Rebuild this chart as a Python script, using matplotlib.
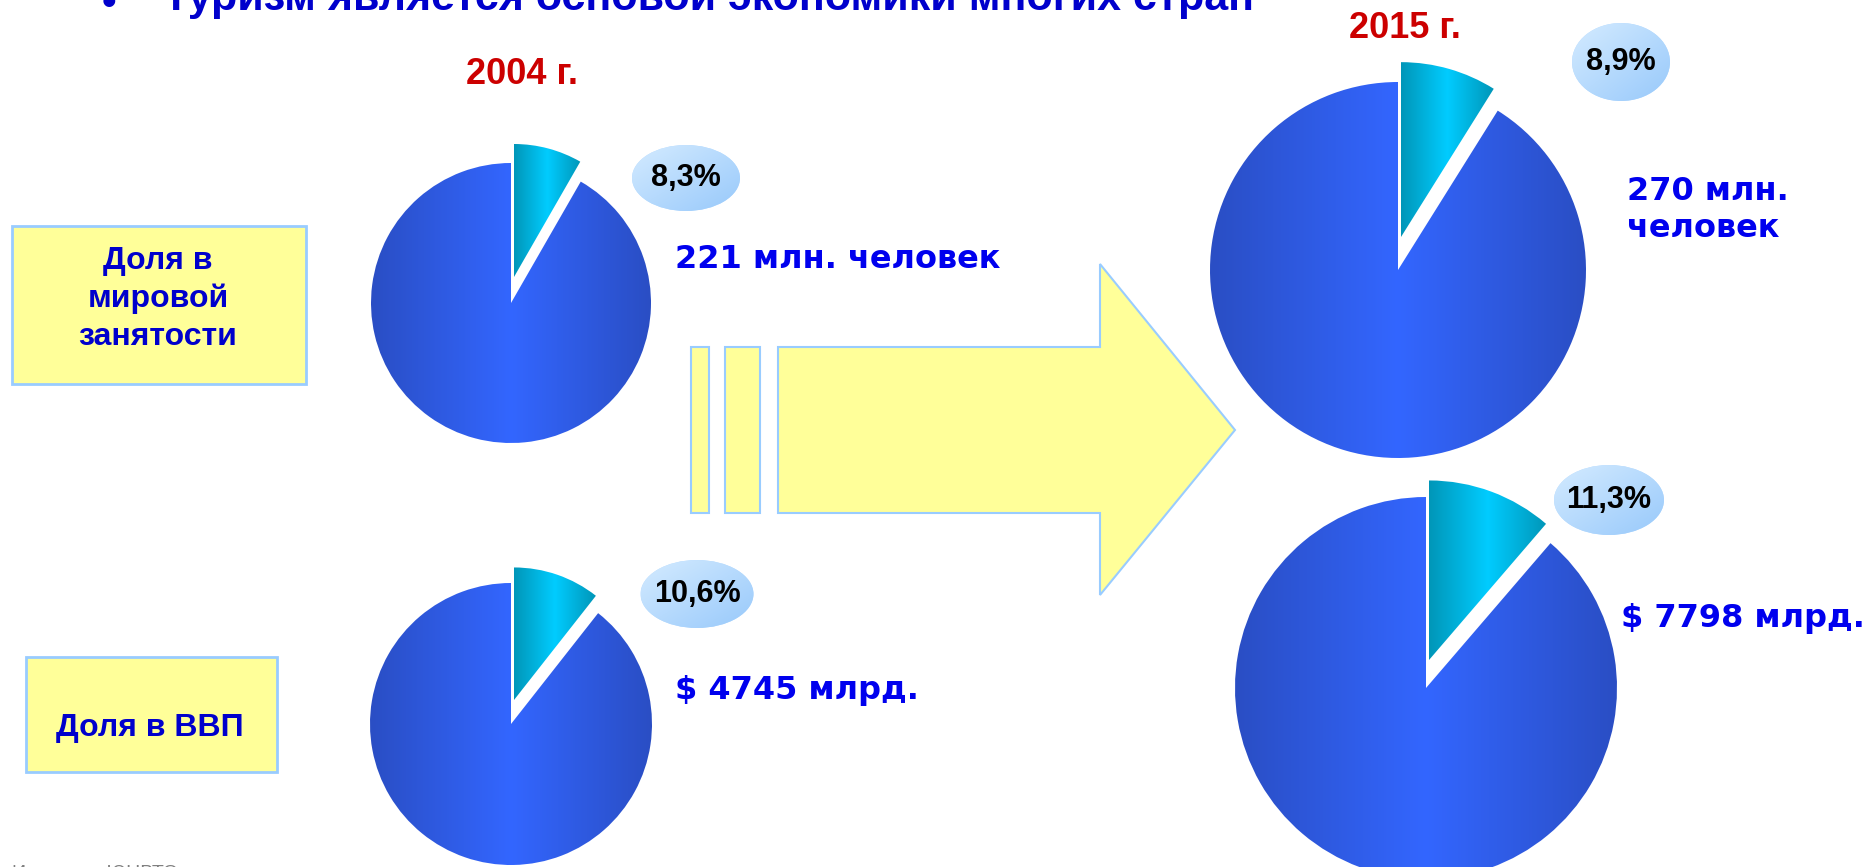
import numpy as np
import matplotlib
matplotlib.use('Agg')
import matplotlib.pyplot as plt
from matplotlib.colors import LinearSegmentedColormap
from matplotlib.patches import Ellipse, Rectangle, Polygon
from matplotlib import font_manager

W, H = 1862, 867

# data
title = 'Туризм является основой экономики многих стран'
source = 'Источник: ЮНВТО'
years = ['2004 г.', '2015 г.']
indicators = ['Доля в\nмировой\nзанятости', 'Доля в ВВП']
employment_share = [8.3, 8.9]     # % of world employment
gdp_share = [10.6, 11.3]          # % of world GDP
employment_abs = ['221 млн. человек', '270 млн.\nчеловек']
gdp_abs = ['$ 4745 млрд.', '$ 7798 млрд.']

installed = {f.name for f in font_manager.fontManager.ttflist}
NARROW = 'Liberation Sans Narrow' if 'Liberation Sans Narrow' in installed else 'Liberation Sans'
ARIAL = 'Liberation Sans'
WIDE = 'DejaVu Sans'

# layout in image pixels (x right, y down)
# (cx, cy, radius, wedge shift x, wedge shift y, wedge radius factor)
pie_pos = [[(511, 303, 140, 3, 26, 0.95), (1398, 270, 188, 3, 33, 0.93)],
           [(511, 724, 141, 3, 24, 0.94), (1426, 688, 191, 3, 28, 0.94)]]
bubble_pos = [[(686, 178, 108, 66), (1621, 62, 98, 78)],
              [(697, 594, 113, 68), (1609, 500, 110, 70)]]
value_pos = [[(675, 259), (1627, 210)],
             [(675, 690), (1621, 619)]]
year_pos = [(522, 75), (1405, 29)]
box_pos = [(12, 226, 294, 158), (26, 657, 251, 115)]
box_text_pos = [(158, 299), (150, 728)]


def Y(y):
    return H - y


def gradient_fill(ax, patch, colors, diagonal=False):
    bb = patch.get_patch_transform().transform_path(patch.get_path()).get_extents()
    n = 256
    if diagonal:
        X, Yg = np.meshgrid(np.linspace(0, 1, n), np.linspace(0, 1, n))
        g = (X + (1 - Yg)) / 2
    else:
        g = np.linspace(0, 1, n)[None, :]
    cmap = LinearSegmentedColormap.from_list('g', colors)
    im = ax.imshow(g, cmap=cmap, extent=(bb.x0, bb.x1, bb.y0, bb.y1), origin='lower',
                   aspect='auto', interpolation='bicubic', zorder=patch.get_zorder() + 0.1)
    im.set_clip_path(patch)
    return im


fig = plt.figure(figsize=(W / 100, H / 100), dpi=100)
ax = fig.add_axes([0, 0, 1, 1])

shares = [employment_share, gdp_share]
values = [employment_abs, gdp_abs]

for row in range(2):
    for col in range(2):
        cx, cy, r, sx, sy, ws = pie_pos[row][col]
        share = shares[row][col]
        wedges, _ = ax.pie([share, 100 - share], startangle=90, counterclock=False,
                           center=(cx, Y(cy)), radius=r,
                           colors=['#00b4e0', '#3060f0'],
                           wedgeprops=dict(edgecolor='white', linewidth=1.5))
        small, big = wedges
        # pull the small slice straight up, like in the original slide
        small.set_center((cx + sx, Y(cy) + sy))
        small.set_radius(r * ws)
        for w in wedges:
            w.set_zorder(2)
        gradient_fill(ax, big, ['#2a4ec4', '#3366ff', '#2a4ec4'])
        gradient_fill(ax, small, ['#0096b8', '#00ccff', '#0096b8'])

        bx, by, bw, bh = bubble_pos[row][col]
        ell = Ellipse((bx, Y(by)), bw, bh, facecolor='#b8dcff', edgecolor='none', zorder=3)
        ax.add_patch(ell)
        gradient_fill(ax, ell, ['#d4ebff', '#98c9fb'], diagonal=True)
        ax.text(bx, Y(by), f'{share:.1f}%'.replace('.', ','), ha='center', va='center',
                fontsize=22, fontweight='bold', family=ARIAL, color='black', zorder=5)

        vx, vy = value_pos[row][col]
        ax.text(vx, Y(vy), values[row][col], ha='left', va='center', fontsize=23,
                fontweight='bold', family=WIDE, color='#0000ee', linespacing=1.25, zorder=5)

for (x, y), yr in zip(year_pos, years):
    ax.text(x, Y(y), yr, ha='center', va='center', fontsize=26, fontweight='bold',
            family=ARIAL, color='#cc0000', zorder=5)

for (x, y, w, h), (tx, ty), lab in zip(box_pos, box_text_pos, indicators):
    ax.add_patch(Rectangle((x, Y(y + h)), w, h, facecolor='#ffff99', edgecolor='#99ccff',
                           linewidth=2, zorder=1))
    ax.text(tx, Y(ty), lab, ha='center', va='center', fontsize=23, fontweight='bold',
            family=ARIAL, color='#0000cc', linespacing=1.32, zorder=5)

# arrow with two stripes
for x0, x1 in [(691, 709), (725, 760)]:
    ax.add_patch(Rectangle((x0, Y(513)), x1 - x0, 166, facecolor='#ffff99',
                           edgecolor='#99ccff', linewidth=1.5, zorder=1))
arrow = [(778, 347), (1100, 347), (1100, 264), (1235, 430), (1100, 595), (1100, 513), (778, 513)]
ax.add_patch(Polygon([(x, Y(y)) for x, y in arrow], closed=True, facecolor='#ffff99',
                     edgecolor='#99ccff', linewidth=1.5, zorder=1))

# title (cut by the top edge) and source (cut by the bottom edge)
ax.text(109, Y(4), '•', ha='center', va='center', fontsize=30, fontweight='bold',
        family=ARIAL, color='#0000cc')
ax.text(163, Y(10), title, ha='left', va='baseline', fontsize=38 if NARROW != ARIAL else 31,
        fontweight='bold', family=NARROW, color='#0000cc')
ax.text(12, Y(865), source, ha='left', va='top', fontsize=14, family=ARIAL, color='#808080')

ax.set_xlim(0, W)
ax.set_ylim(0, H)
ax.set_aspect('equal')
ax.axis('off')
fig.savefig('out.png', dpi=100, facecolor='white')
